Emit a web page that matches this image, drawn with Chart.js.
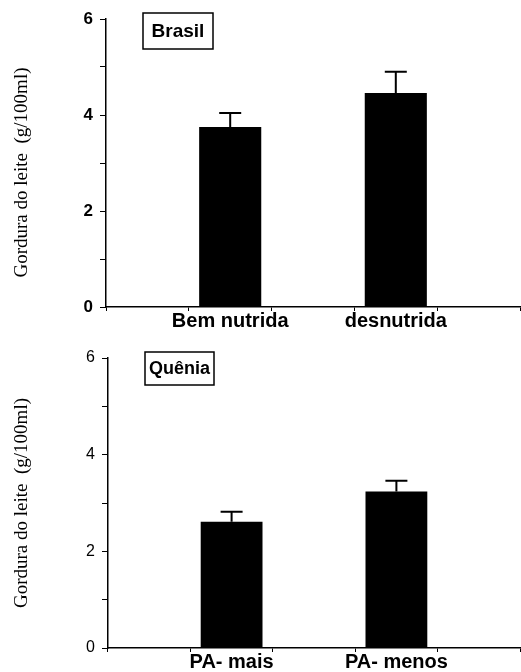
<!DOCTYPE html>
<html>
<head>
<meta charset="utf-8">
<script src="https://cdn.jsdelivr.net/npm/chart.js@4/dist/chart.umd.min.js"></script>
<style>
  html, body { margin: 0; padding: 0; background: #fff; width: 521px; height: 672px; overflow: hidden; }
  .painel { position: absolute; left: 0; }
</style>
</head>
<body>
<div class="painel" style="top:0"><canvas id="brasilChart" width="521" height="336"></canvas></div>
<div class="painel" style="top:336px"><canvas id="queniaChart" width="521" height="345"></canvas></div>
<script>
// --- dados ---
const brasilCategorias = ['Bem nutrida', 'desnutrida'];
const brasilGordura = [3.75, 4.46];
const brasilErro = [0.29, 0.44];

const queniaCategorias = ['PA- mais', 'PA- menos'];
const queniaGordura = [2.61, 3.24];
const queniaErro = [0.21, 0.22];

const yMin = 0, yMax = 6, yPasso = 1;
const yRotulos = [0, 2, 4, 6];
const tituloY = 'Gordura do leite  (g/100ml)';

// barras ficam nas posições 1 e 3 de cinco espaços, como no original
function espalha(valores) {
    return [null, valores[0], null, valores[1], null];
}

// barra de erro só para cima
const erroPlugin = {
    id: 'erro',
    afterDatasetsDraw(chart, args, opts) {
        const ctx = chart.ctx;
        const y = chart.scales.y;
        const meta = chart.getDatasetMeta(0);
        const erros = espalha(opts.valores);
        const medias = chart.data.datasets[0].data;
        ctx.save();
        ctx.strokeStyle = '#000';
        ctx.lineWidth = 2;
        meta.data.forEach((bar, i) => {
            if (medias[i] == null) return;
            const topo = y.getPixelForValue(medias[i] + erros[i]);
            ctx.beginPath();
            ctx.moveTo(bar.x, bar.y);
            ctx.lineTo(bar.x, topo);
            ctx.moveTo(bar.x - 11, topo);
            ctx.lineTo(bar.x + 11, topo);
            ctx.stroke();
        });
        ctx.restore();
    }
};

// caixa com o nome do país
const caixaPlugin = {
    id: 'caixa',
    afterDraw(chart, args, opts) {
        const ctx = chart.ctx;
        ctx.save();
        ctx.strokeStyle = '#000';
        ctx.lineWidth = 1.5;
        ctx.strokeRect(opts.x, opts.y, opts.w, opts.h);
        ctx.fillStyle = '#000';
        ctx.font = 'bold ' + opts.tamanho + 'px "Liberation Sans", Arial, sans-serif';
        ctx.textAlign = 'center';
        ctx.textBaseline = 'middle';
        ctx.fillText(opts.texto, opts.x + opts.w / 2, opts.y + opts.h / 2 + 1);
        ctx.restore();
    }
};

function montaGrafico(id, categorias, valores, erros, caixa, pad, titulo, eixoX, fonteY) {
    new Chart(document.getElementById(id), {
        type: 'bar',
        data: {
            labels: ['', categorias[0], '', categorias[1], ''],
            datasets: [{
                data: espalha(valores),
                backgroundColor: '#000',
                borderWidth: 0,
                barPercentage: 0.75,
                categoryPercentage: 1
            }]
        },
        options: {
            responsive: false,
            animation: false,
            layout: { padding: pad },
            plugins: {
                legend: { display: false },
                tooltip: { enabled: false },
                erro: { valores: erros },
                caixa: caixa
            },
            scales: {
                x: {
                    offset: true,
                    grid: { offset: true, drawOnChartArea: false, color: '#000', tickLength: 4 },
                    border: { color: '#000', width: 1.5 },
                    ticks: {
                        color: '#000',
                        padding: 0,
                        maxRotation: 0,
                        autoSkip: false,
                        font: { family: '"Liberation Sans", Arial, sans-serif', size: 20, weight: 'bold', lineHeight: 1 }
                    }
                },
                y: {
                    min: yMin,
                    max: yMax,
                    grid: { drawOnChartArea: false, color: '#000', tickLength: 6 },
                    border: { color: '#000', width: 1.5 },
                    ticks: {
                        stepSize: yPasso,
                        color: '#000',
                        padding: 7,
                        font: fonteY,
                        callback: v => yRotulos.includes(v) ? v : ''
                    },
                    title: {
                        display: true,
                        text: titulo,
                        color: '#000',
                        padding: { top: 11, bottom: 0 },
                        font: { family: '"Liberation Serif", "Times New Roman", serif', size: 19 }
                    },
                    afterFit: s => { s.width = eixoX; }
                }
            }
        },
        plugins: [erroPlugin, caixaPlugin]
    });
}

montaGrafico('brasilChart', brasilCategorias, brasilGordura, brasilErro,
    { texto: 'Brasil', x: 143, y: 13, w: 70, h: 36, tamanho: 19 },
    { top: 19, right: 1, bottom: 5, left: 0 }, tituloY + '    ', 106,
    { family: '"Liberation Sans", Arial, sans-serif', size: 17, weight: 'bold' });

montaGrafico('queniaChart', queniaCategorias, queniaGordura, queniaErro,
    { texto: 'Quênia', x: 145, y: 16, w: 69, h: 33, tamanho: 18 },
    { top: 22, right: 1, bottom: 9, left: 0 }, tituloY, 108,
    { family: '"Liberation Sans", Arial, sans-serif', size: 16 });
</script>
</body>
</html>
